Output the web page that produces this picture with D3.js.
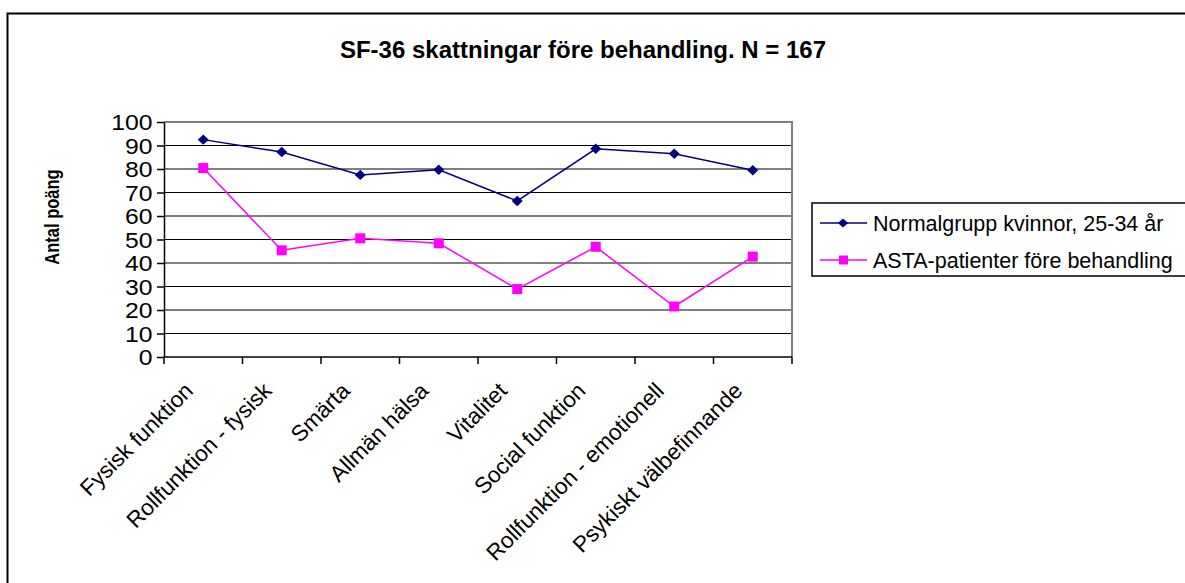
<!DOCTYPE html>
<html>
<head>
<meta charset="utf-8">
<script src="https://cdn.jsdelivr.net/npm/d3@7"></script>
<style>
  body { margin: 0; background: #fff; }
  text { font-family: "Liberation Sans", Arial, sans-serif; }
</style>
</head>
<body>
<svg id="chart" width="1185" height="583"></svg>
<script>
// categories on the x axis
var categories = ["Fysisk funktion", "Rollfunktion - fysisk", "Smärta", "Allmän hälsa",
                  "Vitalitet", "Social funktion", "Rollfunktion - emotionell", "Psykiskt välbefinnande"];
// series values
var normalValues = [92.5, 87.2, 77.5, 79.7, 66.4, 88.6, 86.5, 79.5];
var astaValues = [80.4, 45.4, 50.5, 48.4, 28.9, 46.9, 21.5, 42.7];
var seriesNames = ["Normalgrupp kvinnor, 25-34 år", "ASTA-patienter före behandling"];
var yTicks = [0, 10, 20, 30, 40, 50, 60, 70, 80, 90, 100];

var svg = d3.select("#chart");

// plot area bounds
var plotLeft = 164, plotRight = 792, plotTop = 122, plotBottom = 357;

// square-ish diamond marker, like the spreadsheet one
var diamond = {
  draw: function(context, size){
    var r = Math.sqrt(size / 2);
    context.moveTo(0, -r);
    context.lineTo(r, 0);
    context.lineTo(0, r);
    context.lineTo(-r, 0);
    context.closePath();
  }
};

// outer chart border (runs off the right and bottom of the picture)
svg.append("rect")
  .attr("x", 7.5).attr("y", 13.5)
  .attr("width", 1300).attr("height", 600)
  .style("fill", "white").style("stroke", "black").style("stroke-width", 2);

var x = d3.scaleBand().domain(categories).range([plotLeft, plotRight]).padding(0);
var y = d3.scaleLinear().domain([0, 100]).range([plotBottom, plotTop]);

// horizontal grid lines
svg.append("g").selectAll("line")
  .data(yTicks.filter(function(t){ return t > 0 && t < 100; }))
  .enter().append("line")
  .attr("x1", plotLeft).attr("x2", plotRight)
  .attr("y1", function(d){ return y(d); }).attr("y2", function(d){ return y(d); })
  .style("stroke", "black").style("stroke-width", 1);

// plot area top and right border in grey
svg.append("path")
  .attr("d", "M" + plotLeft + "," + plotTop + "H" + plotRight + "V" + plotBottom)
  .style("fill", "none").style("stroke", "#808080").style("stroke-width", 2);

// y axis
var yAxis = svg.append("g")
  .attr("transform", "translate(" + plotLeft + ",0)")
  .call(d3.axisLeft(y).tickValues(yTicks).tickSize(7).tickPadding(3).tickSizeOuter(0));
yAxis.select(".domain").style("stroke", "black").style("stroke-width", 1.5);
yAxis.selectAll(".tick line").style("stroke", "black").style("stroke-width", 1.5);
yAxis.selectAll("text").style("font-size", "21.5px").style("fill", "black")
  .style("font-family", "'Liberation Sans', Arial, sans-serif")
  .attr("dy", "0.35em")
  .attr("transform", "scale(1.15,1)");

// x axis: ticks between categories
var boundaries = categories.map(function(c){ return x(c); }).concat([plotRight]);
svg.append("line")
  .attr("x1", plotLeft).attr("x2", plotRight).attr("y1", plotBottom).attr("y2", plotBottom)
  .style("stroke", "black").style("stroke-width", 1.5);
svg.append("g").selectAll("line")
  .data(boundaries).enter().append("line")
  .attr("x1", function(d){ return d; }).attr("x2", function(d){ return d; })
  .attr("y1", plotBottom).attr("y2", plotBottom + 7)
  .style("stroke", "black").style("stroke-width", 1.5);

// rotated category labels
svg.append("g").selectAll("text")
  .data(categories).enter().append("text")
  .attr("transform", function(d){
    var cx = x(d) + x.bandwidth() / 2;
    return "translate(" + (cx - 20) + "," + (plotBottom + 24) + ") rotate(-45)";
  })
  .attr("text-anchor", "end")
  .attr("dy", "0.7em")
  .style("font-size", "22.5px")
  .text(function(d){ return d; });

function cx(i){ return x(categories[i]) + x.bandwidth() / 2; }

var line = d3.line()
  .x(function(d, i){ return cx(i); })
  .y(function(d){ return y(d); });

// Normal group series
svg.append("path").datum(normalValues)
  .attr("d", line)
  .style("fill", "none").style("stroke", "#000080").style("stroke-width", 1.5);
svg.append("g").selectAll("path")
  .data(normalValues).enter().append("path")
  .attr("d", d3.symbol(diamond, 55))
  .attr("transform", function(d, i){ return "translate(" + cx(i) + "," + y(d) + ") scale(1.05,1)"; })
  .style("fill", "#000080");

// ASTA series
svg.append("path").datum(astaValues)
  .attr("d", line)
  .style("fill", "none").style("stroke", "#FF00FF").style("stroke-width", 1.5);
svg.append("g").selectAll("rect")
  .data(astaValues).enter().append("rect")
  .attr("x", function(d, i){ return cx(i) - 5; })
  .attr("y", function(d){ return y(d) - 5; })
  .attr("width", 10).attr("height", 10)
  .style("fill", "#FF00FF");

// title
svg.append("text")
  .attr("x", 583).attr("y", 58)
  .attr("text-anchor", "middle")
  .style("font-size", "24px").style("font-weight", "bold")
  .text("SF-36 skattningar före behandling. N = 167");

// y axis title
svg.append("text")
  .attr("transform", "translate(59,217) rotate(-90) scale(1,1.2)")
  .attr("text-anchor", "middle")
  .style("font-size", "16.5px").style("font-weight", "bold")
  .text("Antal poäng");

// legend
var legend = svg.append("g");
legend.append("rect")
  .attr("x", 812).attr("y", 203).attr("width", 400).attr("height", 73)
  .style("fill", "white").style("stroke", "black").style("stroke-width", 1.5);
var rowsY = [223, 260];
var colors = ["#000080", "#FF00FF"];
seriesNames.forEach(function(name, i){
  legend.append("line")
    .attr("x1", 820).attr("x2", 867).attr("y1", rowsY[i]).attr("y2", rowsY[i])
    .style("stroke", colors[i]).style("stroke-width", 1.5);
  if (i == 0) {
    legend.append("path")
      .attr("d", d3.symbol(diamond, 45))
      .attr("transform", "translate(843," + rowsY[i] + ") scale(1.1,0.95)")
      .style("fill", colors[i]);
  } else {
    legend.append("rect")
      .attr("x", 839).attr("y", rowsY[i] - 4.5).attr("width", 9).attr("height", 9)
      .style("fill", colors[i]);
  }
  legend.append("text")
    .attr("x", 873).attr("y", rowsY[i]).attr("dy", "0.35em")
    .style("font-size", "21.5px")
    .text(name);
});
</script>
</body>
</html>
